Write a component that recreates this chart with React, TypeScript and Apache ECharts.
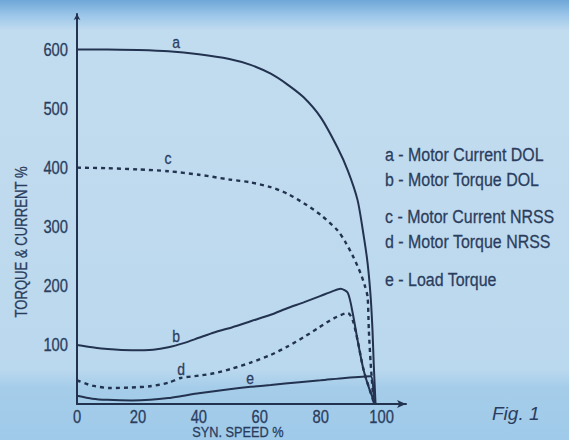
import React, { useEffect, useRef } from "react";
import * as echarts from "echarts";

// Syn. speed % and Torque/Current %
const aSpeed = [0, 10, 20, 30, 40, 50, 57, 63.6, 69, 74.4, 80, 85.5, 88.9, 92.1, 94.1, 95.4, 96.4, 97, 97.4, 98];
const aValue = [600, 600, 599, 597, 592, 584, 574, 559, 541, 519, 485, 434, 395, 345, 285, 238, 181, 125, 69, 0];

const bSpeed = [0, 5, 10, 18, 25, 30, 35, 40, 45, 51, 57, 63.6, 69, 74.4, 80, 84, 86.5, 88.9, 90.5, 92.1, 94.1, 96.4, 98];
const bValue = [100, 96, 93, 91, 92, 96, 103, 112, 121, 130, 140, 151, 162, 172, 183, 191, 195, 188, 154, 108, 57, 19, 0];

const cSpeed = [0, 10, 20, 30, 40, 50, 57, 63.6, 69, 74.4, 80, 85.5, 88, 90.8, 93.1, 94.5, 95.4, 95.8, 96.4, 97.4];
const cValue = [400, 399, 397, 394, 388, 380, 375, 367, 356, 340, 320, 294, 275, 248, 221, 200, 181, 125, 69, 0];

const dSpeed = [0, 5, 11, 18, 24, 30, 34, 40, 45, 51, 57, 63.6, 69, 74.4, 79, 84.3, 88.9, 90.5, 92.1, 94.1, 96.4, 97.6];
const dValue = [40, 31, 27, 28, 30, 36, 44, 48, 52, 60, 70, 83, 97, 113, 128, 145, 154, 142, 108, 57, 19, 0];

const eSpeed = [0, 5, 10, 18, 24, 30, 35, 40, 50, 57, 63.6, 73, 80, 88, 96.4, 97.4];
const eValue = [14, 9, 7, 6, 7, 10, 14, 18, 25, 29, 32, 37, 40, 44, 47, 0];

const xTicks = [0, 20, 40, 60, 80, 100];
const yTicks = [100, 200, 300, 400, 500, 600];

const curveLetters = ["a", "b", "c", "d", "e"];
const legendLines = [
  "a - Motor Current DOL",
  "b - Motor Torque DOL",
  "c - Motor Current NRSS",
  "d - Motor Torque NRSS",
  "e - Load Torque",
];

const zip = (xs: number[], ys: number[]) => xs.map((x, i) => [x, ys[i]]);

const FONT = "'Liberation Sans', Arial, sans-serif";
const INK = "#22324f";
const TXT = "#2b3d5d";

export default function App() {
  const ref = useRef<HTMLDivElement>(null);
  useEffect(() => {
    const chart = echarts.init(ref.current!, null, { renderer: "svg" });
    const lineBase = (name: string, data: number[][], dashed: boolean) => ({
      name,
      type: "line",
      data,
      smooth: 0.25,
      showSymbol: false,
      symbol: "none",
      lineStyle: {
        color: INK,
        width: dashed ? 2.4 : 2,
        type: dashed ? [4, 4] : "solid",
      },
    });
    chart.setOption({
      animation: false,
      backgroundColor: {
        type: "linear",
        x: 0, y: 0, x2: 0, y2: 1,
        colorStops: [
          { offset: 0, color: "#6ea7d8" },
          { offset: 0.035, color: "#9cc6e9" },
          { offset: 0.07, color: "#c2dcef" },
          { offset: 0.5, color: "#bfdaee" },
          { offset: 0.84, color: "#bad8ee" },
          { offset: 0.88, color: "#a5cdea" },
          { offset: 1, color: "#9fcae9" },
        ],
      },
      grid: { left: 77, right: 163, top: 14, bottom: 36 },
      xAxis: {
        type: "value",
        min: 0,
        max: 108,
        interval: 20,
        splitLine: { show: false },
        axisTick: { show: false },
        axisLine: {
          lineStyle: { color: INK, width: 2 },
          symbol: ["none", "arrow"],
          symbolSize: [6, 9],
        },
        axisLabel: { show: false },
      },
      yAxis: {
        type: "value",
        min: 0,
        max: 660,
        interval: 100,
        splitLine: { show: false },
        axisTick: { show: false },
        axisLine: {
          show: true,
          lineStyle: { color: INK, width: 2 },
          symbol: ["none", "arrow"],
          symbolSize: [5, 6],
        },
        axisLabel: { show: false },
      },
      series: [
        lineBase("a", zip(aSpeed, aValue), false),
        lineBase("b", zip(bSpeed, bValue), false),
        lineBase("c", zip(cSpeed, cValue), true),
        lineBase("d", zip(dSpeed, dValue), true),
        lineBase("e", zip(eSpeed, eValue), false),
      ],
    });

    const px = (x: number, y: number) =>
      chart.convertToPixel({ xAxisIndex: 0, yAxisIndex: 0 }, [x, y]) as number[];
    const narrowText = (
      text: string, x: number, y: number, size: number,
      align: string, scale: number, extra: any = {}
    ) => ({
      type: "text",
      x, y,
      scaleX: scale,
      style: {
        text,
        fill: TXT,
        stroke: TXT,
        lineWidth: 0.3,
        font: `${size}px ${FONT}`,
        textAlign: align,
        textVerticalAlign: "middle",
      },
      ...extra,
    });

    const letterPos = [
      [176, 42],
      [176, 336],
      [168, 158],
      [181, 369],
      [250, 378],
    ];
    const legendY = [155, 180, 217, 242, 280];

    const graphics: any[] = [
      ...yTicks.map((v) => {
        const p = px(0, v);
        return narrowText(String(v), p[0] - 9, p[1], 18, "right", 0.82);
      }),
      ...xTicks.map((v) => {
        const p = px(v, 0);
        return narrowText(String(v), p[0], p[1] + 12, 18, "center", 0.82);
      }),
      ...curveLetters.map((t, i) =>
        narrowText(t, letterPos[i][0], letterPos[i][1], 17, "center", 0.82)
      ),
      ...legendLines.map((t, i) => narrowText(t, 385, legendY[i], 19, "left", 0.84)),
      narrowText("SYN. SPEED %", 238, 431.5, 15, "center", 0.85),
      {
        type: "text",
        x: 22,
        y: 242,
        rotation: Math.PI / 2,
        scaleX: 0.82,
        style: {
          text: "TORQUE & CURRENT %",
          fill: TXT,
          stroke: TXT,
          lineWidth: 0.3,
          font: `16px ${FONT}`,
          textAlign: "center",
          textVerticalAlign: "middle",
        },
      },
      {
        type: "text",
        x: 492,
        y: 413,
        style: {
          text: "Fig. 1",
          fill: TXT,
          font: `italic 19px ${FONT}`,
          textAlign: "left",
          textVerticalAlign: "middle",
        },
      },
    ];
    chart.setOption({ graphic: graphics });
    return () => chart.dispose();
  }, []);
  return (
    <div
      ref={ref}
      style={{ position: "absolute", left: 0, top: 0, width: 569, height: 440 }}
    />
  );
}
